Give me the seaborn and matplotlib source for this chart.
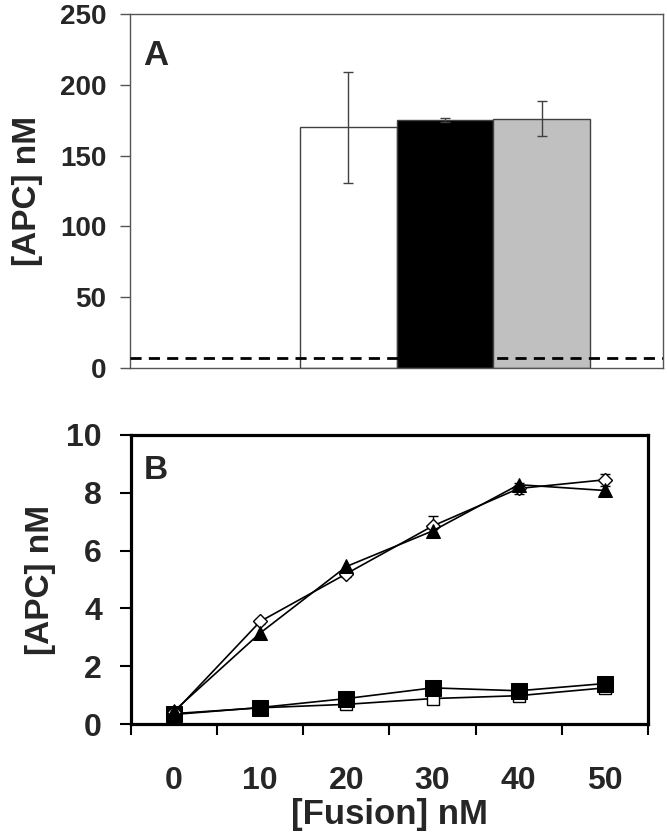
import numpy as np
import pandas as pd
import seaborn as sns
import matplotlib
matplotlib.use("Agg")
import matplotlib.pyplot as plt

# panel A: bars
bar_names = ["open", "filled", "grey"]
bar_values = [170, 175, 176]
bar_errors = [39, 1.5, 12.5]
bar_colors = ["white", "black", "#c0c0c0"]
baseline = 7

# panel B: titration curves
fusion_nM = [0, 10, 20, 30, 40, 50]
diamond_open = [0.40, 3.55, 5.20, 6.85, 8.15, 8.45]
diamond_err = [0.05, 0.10, 0.10, 0.35, 0.20, 0.20]
triangle_filled = [0.45, 3.15, 5.45, 6.68, 8.28, 8.08]
square_filled = [0.33, 0.57, 0.88, 1.25, 1.15, 1.40]
square_open = [0.36, 0.56, 0.68, 0.88, 0.98, 1.25]

sns.set_style("ticks")
plt.rcParams["font.family"] = ["Liberation Sans", "DejaVu Sans"]
plt.rcParams["font.weight"] = "bold"

fig = plt.figure(figsize=(6.67, 8.36), dpi=100)

# ---------- panel A ----------
axA = fig.add_axes([130 / 667, 1 - 368 / 836, 533 / 667, 354 / 836])
dfA = pd.DataFrame({"name": bar_names, "value": bar_values})
sns.barplot(data=dfA, x="name", y="value", hue="name", palette=bar_colors,
            width=1.0, edgecolor="#404040", linewidth=1.0, legend=False, ax=axA)
axA.errorbar(range(len(bar_names)), bar_values, yerr=bar_errors, fmt="none",
             ecolor="#404040", elinewidth=1.0, capsize=3.5, capthick=1.0, zorder=5)
axA.axhline(baseline, color="black", lw=2.0, ls=(0, (4, 2.6)), zorder=6)
axA.set_xlim(-2.25, 3.25)
axA.set_ylim(0, 250)
axA.set_yticks(range(0, 251, 50))
axA.set_xticks([])
axA.set_xlabel("")
axA.set_ylabel("[APC] nM", fontsize=24, fontweight="bold", labelpad=12)
for s in axA.spines.values():
    s.set_color("#555555")
    s.set_linewidth(1.0)
axA.tick_params(axis="y", direction="out", length=7, width=1, color="#555555",
                labelsize=20, pad=10)
axA.text(0.025, 0.93, "A", transform=axA.transAxes, fontsize=25,
         fontweight="bold", va="top", ha="left")

# ---------- panel B ----------
axB = fig.add_axes([131 / 667, 1 - 724 / 836, 517 / 667, 289 / 836])
xpos = np.arange(len(fusion_nM))
dfB = pd.DataFrame({"x": xpos, "diamond": diamond_open, "triangle": triangle_filled,
                    "sq_f": square_filled, "sq_o": square_open})

sns.lineplot(data=dfB, x="x", y="sq_o", color="black", lw=1.2, marker="s",
             markersize=8, markerfacecolor="white", markeredgecolor="black",
             markeredgewidth=1.0, ax=axB, zorder=3)
sns.lineplot(data=dfB, x="x", y="sq_f", color="black", lw=1.2, marker="s",
             markersize=11.5, markerfacecolor="black", markeredgecolor="black",
             ax=axB, zorder=4)
axB.errorbar(xpos, diamond_open, yerr=diamond_err, fmt="none", ecolor="black",
             elinewidth=1.0, capsize=3.5, capthick=1.0, zorder=5)
sns.lineplot(data=dfB, x="x", y="diamond", color="black", lw=1.2, marker="D",
             markersize=7.5, markerfacecolor="white", markeredgecolor="black",
             markeredgewidth=1.0, ax=axB, zorder=5)
sns.lineplot(data=dfB, x="x", y="triangle", color="black", lw=1.2, marker="^",
             markersize=9.5, markerfacecolor="black", markeredgecolor="black",
             ax=axB, zorder=6)

axB.set_xlim(-0.5, 5.5)
axB.set_ylim(0, 10)
axB.set_yticks(range(0, 11, 2))
axB.set_xticks(xpos, [str(v) for v in fusion_nM])
axB.set_xticks(np.arange(-0.5, 6, 1), minor=True)
axB.tick_params(axis="x", which="major", length=0, labelsize=23, pad=30)
axB.tick_params(axis="x", which="minor", direction="out", length=8, width=1.5,
                color="black")
axB.tick_params(axis="y", direction="out", length=8, width=1.5, color="black",
                labelsize=23, pad=13)
for s in axB.spines.values():
    s.set_color("black")
    s.set_linewidth(2.3)
axB.set_xlabel("[Fusion] nM", fontsize=25, fontweight="bold", labelpad=2)
axB.set_ylabel("[APC] nM", fontsize=24, fontweight="bold", labelpad=7)
axB.text(0.025, 0.93, "B", transform=axB.transAxes, fontsize=24,
         fontweight="bold", va="top", ha="left")

fig.savefig("out.png", dpi=100)
